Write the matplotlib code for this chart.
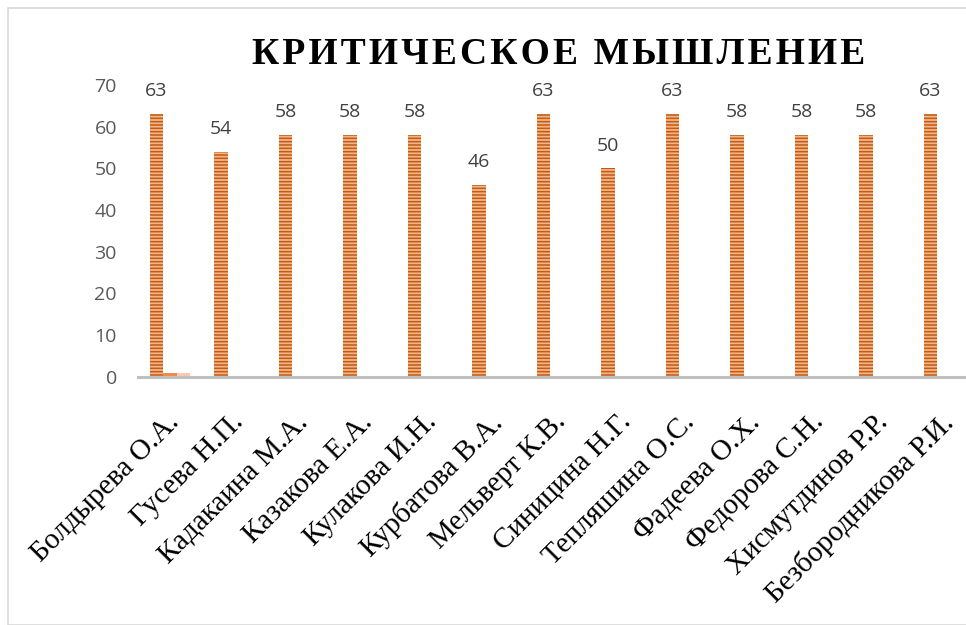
import matplotlib
matplotlib.use("Agg")
import matplotlib.pyplot as plt
from matplotlib.patches import Rectangle
from matplotlib.transforms import ScaledTranslation

# данные
names = ["Болдырева О.А.", "Гусева Н.П.", "Кадакаина М.А.", "Казакова Е.А.",
         "Кулакова И.Н.", "Курбатова В.А.", "Мельверт К.В.", "Синицина Н.Г.",
         "Тепляшина О.С.", "Фадеева О.Х.", "Федорова С.Н.", "Хисмутдинов Р.Р.",
         "Безбородникова Р.И."]
series1 = [63, 54, 58, 58, 58, 46, 63, 50, 63, 58, 58, 58, 63]
series2 = [1, 0, 0, 0, 0, 0, 0, 0, 0, 0, 0, 0, 0]
series3 = [1, 0, 0, 0, 0, 0, 0, 0, 0, 0, 0, 0, 0]
yticks = [0, 10, 20, 30, 40, 50, 60, 70]
title = "КРИТИЧЕСКОЕ МЫШЛЕНИЕ"

plt.rcParams['hatch.linewidth'] = 1.1

fig = plt.figure(figsize=(9.66, 6.25), dpi=100)
fig.patches.append(Rectangle((8/966, 0.0), 1.0, 1 - 8/625, transform=fig.transFigure,
                             fill=False, edgecolor="#D9D9D9", linewidth=1.2))

ax = fig.add_axes([0.1426, 0.397, 0.868, 0.467])
w = 0.21
x = list(range(len(names)))

# основная серия со штриховкой
b1 = ax.bar([i - w for i in x], series1, width=w, color="#F2B48A",
            edgecolor="#C55A11", hatch="-----", linewidth=0)
ax.bar(x, series2, width=w, color="#F08A4B", linewidth=0)
ax.bar([i + w for i in x], series3, width=w, color="#F9C9B0", linewidth=0)

for i, v in enumerate(series1):
    ax.text(i - w, v + 3.3, str(v), ha="center", va="bottom",
            fontsize=14, color="#404040", family="Open Sans")

ax.set_xlim(-0.5, len(names) - 0.5)
ax.set_ylim(0, 70)
ax.set_yticks(yticks)
ax.set_yticklabels([str(t) for t in yticks], fontsize=14, color="#595959",
                   family="Open Sans")
ax.tick_params(axis="y", length=0, pad=15)
ax.set_xticks(x)
ax.set_xticklabels(names, rotation=45, ha="right", va="top", rotation_mode="anchor",
                   fontsize=21, family="Liberation Serif", color="black")
ax.tick_params(axis="x", length=0, pad=23)
shift = ScaledTranslation(-4/100, 0, fig.dpi_scale_trans)
for lbl in ax.get_xticklabels():
    lbl.set_transform(lbl.get_transform() + shift)

for s in ["top", "right", "left"]:
    ax.spines[s].set_visible(False)
ax.spines["bottom"].set_color("#BFBFBF")
ax.spines["bottom"].set_linewidth(2.2)

fig.text(0.578, 0.912, "\u200a".join(title), ha="center", va="center",
         fontsize=27, fontweight="bold", family=["Liberation Serif", "DejaVu Serif"])

fig.savefig("out.png", dpi=100)
